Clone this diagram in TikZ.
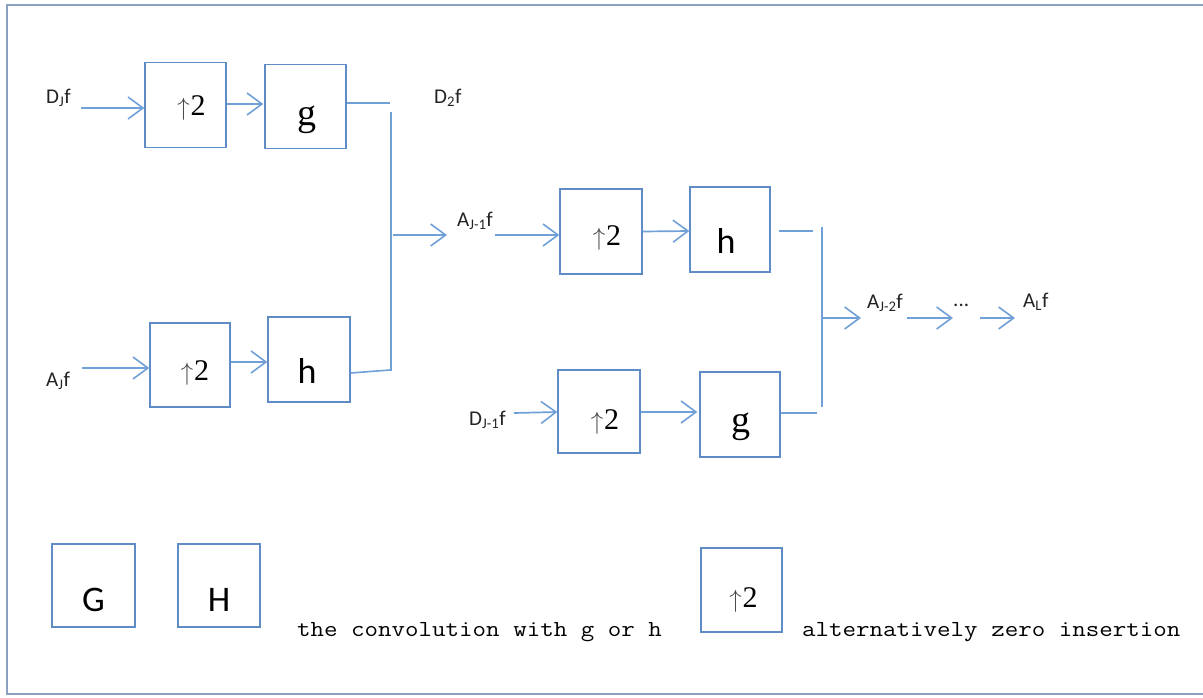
\documentclass[tikz,border=0pt]{standalone}
\usepackage{fontspec}
\usepackage{graphicx}
\setmainfont{Carlito}
\newfontfamily\tnr{Liberation Serif}
\setmonofont{Latin Modern Mono}
\usetikzlibrary{arrows.meta}
\definecolor{boxblue}{RGB}{95,140,198}
\definecolor{arrblue}{RGB}{112,160,215}
\definecolor{framec}{RGB}{140,160,192}
\definecolor{txt}{RGB}{35,35,35}
\definecolor{upgray}{RGB}{70,70,70}
\newcommand{\uptwo}{{\fontsize{36}{36}\selectfont\textcolor{upgray}{$\uparrow$}}\kern1pt{\tnr 2}}
\begin{document}
\begin{tikzpicture}[x=1pt,y=-1pt,
  blk/.style={draw=boxblue,line width=1.3pt,inner sep=0pt},
  arr/.style={draw=arrblue,line width=1.7pt,-{Straight Barb[length=15pt,width=22pt,line width=1.6pt]}},
  wire/.style={draw=arrblue,line width=1.6pt},
  lab/.style={font=\fontsize{21}{23}\selectfont,text=txt,inner sep=0pt,anchor=west},
  upt/.style={font=\tnr\fontsize{30}{32}\selectfont,text=black,inner sep=0pt},
  gt/.style={font=\tnr\fontsize{38}{40}\selectfont,text=black,inner sep=0pt},
  ht/.style={font=\fontsize{36}{38}\selectfont,text=black,inner sep=0pt},
  bigt/.style={font=\fontsize{36}{38}\selectfont,text=black,inner sep=0pt},
  mono/.style={font=\ttfamily\fontsize{23}{25}\selectfont,text=black,inner sep=0pt,anchor=base west}
]
\useasboundingbox (0,0) rectangle (1203,697);
% frame
\draw[framec,line width=2pt] (1203,5) -- (7,5) -- (7,694) -- (1203,694);

% boxes
\node[blk,minimum width=81pt,minimum height=85pt] (u1) at (185.5,105) {};
\node[blk,minimum width=81pt,minimum height=84pt] (g1) at (305.5,106.5) {};
\node[blk,minimum width=80pt,minimum height=84pt] (u2) at (190,365) {};
\node[blk,minimum width=82pt,minimum height=85pt] (h1) at (309,359.5) {};
\node[blk,minimum width=82pt,minimum height=85pt] (u3) at (601,231.5) {};
\node[blk,minimum width=80pt,minimum height=85pt] (h2) at (730,229.5) {};
\node[blk,minimum width=82pt,minimum height=83pt] (u4) at (599,411.5) {};
\node[blk,minimum width=80pt,minimum height=85pt] (g2) at (740,414.5) {};
\node[blk,minimum width=83pt,minimum height=83pt] (G) at (93.5,585.5) {};
\node[blk,minimum width=82pt,minimum height=83pt] (H) at (219,585.5) {};
\node[blk,minimum width=81pt,minimum height=84pt] (U) at (741.5,590) {};

% box texts
\node[upt] (u1t) at ([xshift=6pt,yshift=-3pt]u1.center) {\uptwo};
\node[gt] (g1t) at ([xshift=1.5pt,yshift=-13.5pt]g1.center) {g};
\node[upt] (u2t) at ([xshift=5pt,yshift=-8pt]u2.center) {\uptwo};
\node[ht] (h1t) at ([xshift=-2pt,yshift=-11.5pt]h1.center) {h};
\node[upt] (u3t) at ([xshift=6pt,yshift=-6.5pt]u3.center) {\uptwo};
\node[ht] (h2t) at ([xshift=-4pt,yshift=-11.5pt]h2.center) {h};
\node[upt] (u4t) at ([xshift=6pt,yshift=-10pt]u4.center) {\uptwo};
\node[gt] (g2t) at ([xshift=1pt,yshift=-12.5pt]g2.center) {g};
\node[bigt] (Gt) at ([yshift=-14pt]G.center) {G};
\node[bigt] (Ht) at ([yshift=-14pt]H.center) {H};
\node[upt] (Ut) at ([xshift=2pt,yshift=-10pt]U.center) {\uptwo};

% labels
\node[lab] (DJ) at (46,98) {D\textsubscript{J}f};
\node[lab] (D2) at (434,98) {D\textsubscript{2}f};
\node[lab] (AJ) at (46,381) {A\textsubscript{J}f};
\node[lab] (AJ1) at (457,221) {A\textsubscript{J-1}f};
\node[lab] (DJ1) at (469,420) {D\textsubscript{J-1}f};
\node[lab] (AJ2) at (867,303) {A\textsubscript{J-2}f};
\node[lab] (dots) at (953,305) {...};
\node[lab] (AL) at (1023,302) {A\textsubscript{L}f};

% junction coordinates
\coordinate (c1) at (390,103);
\coordinate (c2) at (391,112);
\coordinate (c3) at (391,371);
\coordinate (c3b) at (390,370);
\coordinate (c4) at (393,235);
\coordinate (c5) at (813,231);
\coordinate (c6) at (822,227);
\coordinate (c7) at (822,407);
\coordinate (c8) at (817,413);
\coordinate (c9) at (823,318);

% connectors
\draw[arr] ([xshift=10pt,yshift=-10pt]DJ.east) -- ([yshift=-3pt]u1.west);
\draw[arr] ([yshift=1pt]u1.east) -- ([xshift=-1pt,yshift=2.5pt]g1.west);
\draw[wire] ([yshift=3.5pt]g1.east) -- (c1);
\draw[wire] (c2) -- (c3);
\draw[wire] ([yshift=-13.5pt]h1.east) -- (c3b);
\draw[arr] (c4) -- ([xshift=-10pt,yshift=-14pt]AJ1.west);
\draw[arr] ([xshift=2pt,yshift=-14pt]AJ1.east) -- ([yshift=-3.5pt]u3.west);
\draw[arr] (u3.east) -- ([yshift=-1.5pt]h2.west);
\draw[wire] ([xshift=8pt,yshift=-1.5pt]h2.east) -- (c5);
\draw[wire] (c6) -- (c7);
\draw[wire] ([yshift=1.5pt]g2.east) -- (c8);
\draw[arr] (c9) -- ([xshift=-6pt,yshift=-15pt]AJ2.west);
\draw[arr] ([xshift=4pt,yshift=-15pt]AJ2.east) -- ([yshift=-13pt]dots.west);
\draw[arr] ([xshift=11pt,yshift=-13pt]dots.east) -- ([xshift=-8pt,yshift=-16pt]AL.west);
\draw[arr] ([xshift=8pt,yshift=7pt]DJ1.east) -- ([yshift=-0.5pt]u4.west);
\draw[arr] ([yshift=-0.5pt]u4.east) -- ([xshift=-2pt,yshift=2.5pt]g2.west);
\draw[arr] ([xshift=12pt,yshift=13pt]AJ.east) -- ([yshift=-3pt]u2.west);
\draw[arr] ([yshift=3pt]u2.east) -- ([yshift=-2.5pt]h1.west);

% legend texts
\node[mono] (lt1) at (297,636) {\scalebox{1.14}[1]{the convolution with g or h}};
\node[mono] (lt2) at (802,636) {\scalebox{1.14}[1]{alternatively zero insertion}};
\end{tikzpicture}
\end{document}
